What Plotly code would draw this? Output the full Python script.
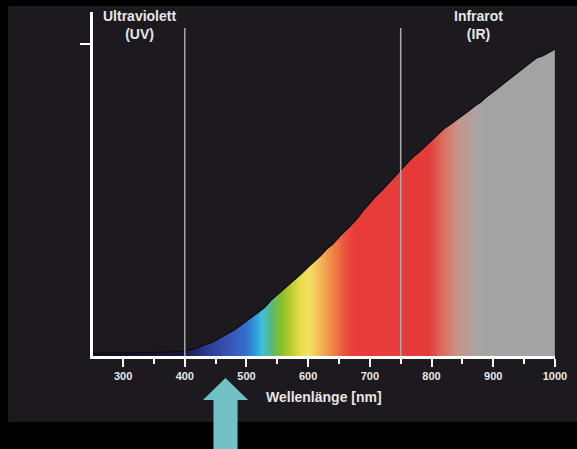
import plotly.graph_objects as go

# ---- data -------------------------------------------------------------
wavelength_nm = list(range(250, 1001, 10))
intensity = [
    0.010, 0.008, 0.012, 0.009, 0.011, 0.010, 0.009, 0.011, 0.010, 0.012,
    0.011, 0.013, 0.012, 0.014, 0.015, 0.016,            # 250..400
    0.021, 0.026, 0.035, 0.040, 0.050, 0.061, 0.072, 0.083, 0.098, 0.112,  # 410..500
    0.127, 0.141, 0.157, 0.179, 0.196, 0.213, 0.231, 0.247, 0.266, 0.285,  # 510..600
    0.303, 0.321, 0.343, 0.359, 0.381, 0.399, 0.420, 0.442, 0.468, 0.490,  # 610..700
    0.513, 0.532, 0.553, 0.574, 0.596, 0.619, 0.638, 0.654, 0.673, 0.692,  # 710..800
    0.712, 0.728, 0.742, 0.756, 0.769, 0.785, 0.801, 0.814, 0.832, 0.846,  # 810..900
    0.862, 0.878, 0.894, 0.907, 0.926, 0.939, 0.955, 0.962, 0.974, 0.984,  # 910..1000
]
major_ticks = [300, 400, 500, 600, 700, 800, 900, 1000]
major_labels = ["300", "400", "500", "600", "700", "800", "900", "1000"]
minor_ticks = [350, 450, 550, 650, 750, 850, 950]
uv_boundary = 400
ir_boundary = 750
region_labels = ["<b>Ultraviolett</b><br><b>(UV)</b>", "<b>Infrarot</b><br><b>(IR)</b>"]
region_label_nm = [326, 876]
arrow_nm = 466

# colour gradient under the curve (position in nm, colour)
grad_nm = [250, 395, 430, 470, 495, 510, 520, 535, 550, 565, 580, 595,
           612, 630, 648, 665, 785, 805, 830, 860, 880, 1000]
grad_col = ["#101020", "#161640", "#2a3a90", "#3a55b8", "#3470cc", "#2ea0dc",
            "#40c0d8", "#58b878", "#86c02a", "#b8cc30", "#e8dc48", "#f5e060",
            "#f4b858", "#f08a48", "#ec5a40", "#e83c3a", "#e43c3a", "#dc6a5a",
            "#c89488", "#aca4a2", "#a3a3a3", "#a3a3a3"]

# ---- layout geometry (fractions of the photographed 577 x 449 frame) ----
W, H = 577, 449
FIG_W = 591          # page is captured ~591 css px wide and squeezed to 577
x_range = [251.7, 1000]
y_range = [0, 1.1026]
x_dom = [93 / W, 553 / W]
y_dom = [1 - 356 / H, 1 - 12 / H]

g0, g1 = grad_nm[0], grad_nm[-1]
colorscale = [[(n - g0) / (g1 - g0), c] for n, c in zip(grad_nm, grad_col)]

fig = go.Figure()
fig.add_trace(go.Scatter(
    x=wavelength_nm, y=intensity, mode="lines", fill="tozeroy",
    line=dict(color="#0d0c10", width=1.2),
    fillgradient=dict(type="horizontal", colorscale=colorscale, start=g0, stop=g1),
    hoverinfo="skip", showlegend=False,
))

def py(p):
    return 1 - p / H

shapes = []
shapes.append(dict(type="rect", xref="paper", yref="paper",
                   x0=8 / W, x1=1, y0=py(422), y1=py(6),
                   fillcolor="#1c1a1e", line=dict(width=0), layer="below"))
for b in (uv_boundary, ir_boundary):
    shapes.append(dict(type="line", xref="x", yref="y", x0=b, x1=b, y0=0, y1=1.051,
                       line=dict(color="#a8a8a8", width=1.5), layer="above"))
px_per_nm = (x_dom[1] - x_dom[0]) * W / (x_range[1] - x_range[0])
hw_head = 22.5 / px_per_nm
hw_shaft = 12 / px_per_nm
path = (f"M {arrow_nm},{py(378)} L {arrow_nm + hw_head},{py(400)} "
        f"L {arrow_nm + hw_shaft},{py(400)} L {arrow_nm + hw_shaft},{py(452)} "
        f"L {arrow_nm - hw_shaft},{py(452)} L {arrow_nm - hw_shaft},{py(400)} "
        f"L {arrow_nm - hw_head},{py(400)} Z")
shapes.append(dict(type="path", xref="x", yref="paper", path=path,
                   fillcolor="#72c1c6", line=dict(width=0), layer="above"))

annotations = []
for t, n in zip(region_labels, region_label_nm):
    annotations.append(dict(x=n, y=py(25.5), xref="x", yref="paper", text=t,
                            showarrow=False, xanchor="center", yanchor="middle",
                            font=dict(family="Liberation Sans", size=14, color="#e6e6e6")))
annotations.append(dict(x=(x_range[0] + x_range[1]) / 2, y=py(397), xref="x", yref="paper",
                        text="<b>Wellenlänge [nm]</b>", showarrow=False,
                        xanchor="center", yanchor="middle",
                        font=dict(family="Liberation Sans", size=14, color="#e6e6e6")))

fig.update_layout(
    width=FIG_W, height=H, margin=dict(l=0, r=0, t=0, b=0),
    paper_bgcolor="#000000", plot_bgcolor="rgba(0,0,0,0)",
    shapes=shapes, annotations=annotations,
    xaxis=dict(domain=x_dom, range=x_range, showgrid=False, zeroline=False,
               showline=True, linecolor="#ffffff", linewidth=3,
               ticks="outside", ticklen=8, tickwidth=2, tickcolor="#ffffff",
               tickvals=major_ticks, ticktext=[f"<b>{t}</b>" for t in major_labels],
               tickfont=dict(family="Liberation Sans", size=11, color="#e6e6e6"),
               ticklabelstandoff=0,
               minor=dict(ticks="outside", ticklen=5, tickwidth=2, tickcolor="#ffffff",
                          tickvals=minor_ticks, showgrid=False)),
    yaxis=dict(domain=y_dom, range=y_range, showgrid=False, zeroline=False,
               showline=True, linecolor="#ffffff", linewidth=3,
               ticks="outside", ticklen=10, tickwidth=2, tickcolor="#ffffff",
               tickvals=[1.0], showticklabels=False),
)

fig.write_html(
    "out.html",
    config={"displayModeBar": False, "staticPlot": True},
    post_script=("document.documentElement.style.margin='0';document.body.style.margin='0';"
                 "document.documentElement.style.overflow='hidden';document.body.style.overflow='hidden';"
                 "document.body.style.background='#000';"),
)
